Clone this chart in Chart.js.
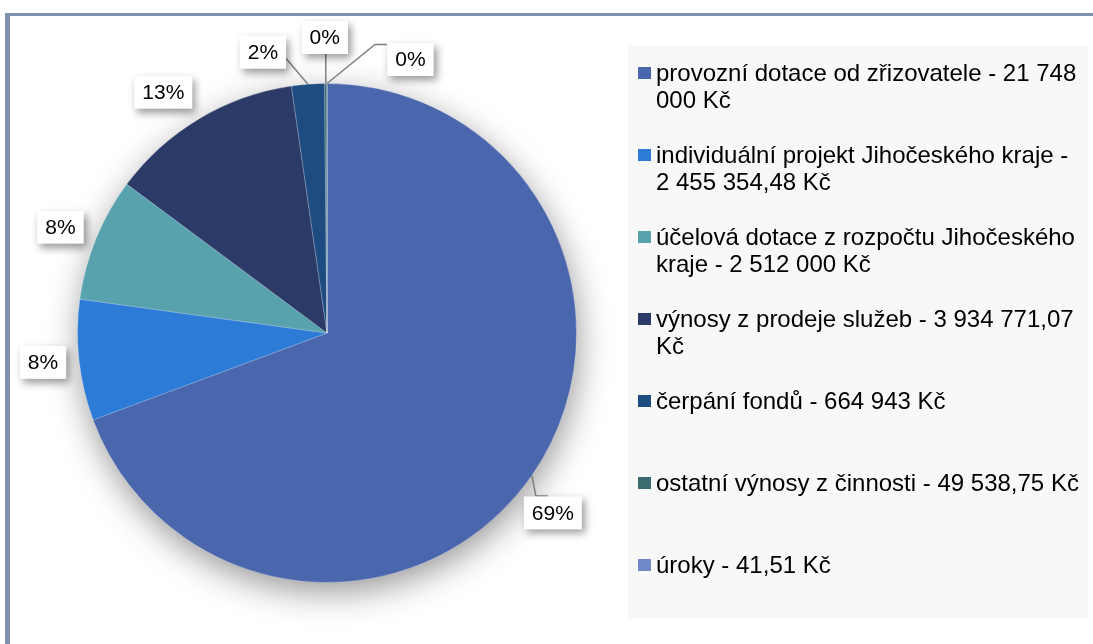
<!DOCTYPE html>
<html>
<head>
<meta charset="utf-8">
<script src="https://cdn.jsdelivr.net/npm/chart.js@4.4.1/dist/chart.umd.min.js"></script>
<style>
  html, body { margin: 0; padding: 0; background: #fff; }
  canvas { display: block; }
</style>
</head>
<body>
<canvas id="pieChart" width="1093" height="644"></canvas>
<script>
// data
const categories = [
  "provozní dotace od zřizovatele",
  "individuální projekt Jihočeského kraje",
  "účelová dotace z rozpočtu Jihočeského kraje",
  "výnosy z prodeje služeb",
  "čerpání fondů",
  "ostatní výnosy z činnosti",
  "úroky"
];
const amounts = [21748000, 2455354.48, 2512000, 3934771.07, 664943, 49538.75, 41.51];
const amountTexts = ["21 748 000 Kč", "2 455 354,48 Kč", "2 512 000 Kč", "3 934 771,07 Kč", "664 943 Kč", "49 538,75 Kč", "41,51 Kč"];

const sliceColors = ["#4A66AC", "#2C7BD6", "#58A2AE", "#2B3A67", "#1D4D80", "#3B6B6E", "#7089C6"];

// where each percentage box sits, relative to the slice's outer edge midpoint
const labelPlacement = [
  { dx: 21, dy: 37.5, leader: { x: -5, y: -17, elbow: -12 } },
  { dx: -36, dy: 2 },
  { dx: -35.5, dy: -11.5 },
  { dx: -36, dy: -26.5 },
  { dx: -45, dy: -32, leader: { x: 22.5, y: 5.5 } },
  { dx: -1, dy: -46, leader: { x: 1, y: 16.5 } },
  { dx: 83.5, dy: -24, leader: { x: -23.5, y: -15, elbow: -12 } }
];

const FONT = "'Liberation Sans', Arial, sans-serif";
const total = amounts.reduce((a, b) => a + b, 0);

const framePlugin = {
  id: "frame",
  beforeDraw(chart) {
    const ctx = chart.ctx;
    ctx.save();
    ctx.fillStyle = "#fff";
    ctx.fillRect(0, 0, chart.width, chart.height);
    // partial frame (top + left)
    ctx.fillStyle = "#8392AC";
    ctx.fillRect(5, 13, chart.width - 5, 3);
    ctx.fillRect(5, 13, 5, chart.height - 13);
    // legend panel
    ctx.fillStyle = "#F8F8F8";
    ctx.fillRect(628, 45, 460, 574);
    ctx.restore();
  }
};

const shadowPlugin = {
  id: "pieShadow",
  beforeDatasetsDraw(chart) {
    const arc = chart.getDatasetMeta(0).data[0];
    if (!arc) return;
    const { x, y, outerRadius } = arc.getProps(["x", "y", "outerRadius"], true);
    const ctx = chart.ctx;
    ctx.save();
    ctx.shadowColor = "rgba(0,0,0,0.42)";
    ctx.shadowBlur = 34;
    ctx.shadowOffsetX = 2;
    ctx.shadowOffsetY = 10;
    ctx.fillStyle = sliceColors[0];
    ctx.beginPath();
    ctx.arc(x, y, outerRadius - 1, 0, Math.PI * 2);
    ctx.fill();
    ctx.restore();
  }
};

const labelPlugin = {
  id: "pctLabels",
  afterDatasetsDraw(chart) {
    const ctx = chart.ctx;
    const meta = chart.getDatasetMeta(0);
    ctx.save();
    ctx.font = "21px " + FONT;
    ctx.textAlign = "center";
    ctx.textBaseline = "middle";
    meta.data.forEach((arc, i) => {
      const p = arc.getProps(["x", "y", "startAngle", "endAngle", "outerRadius"], true);
      const mid = (p.startAngle + p.endAngle) / 2;
      const ax = p.x + Math.cos(mid) * p.outerRadius;
      const ay = p.y + Math.sin(mid) * p.outerRadius;
      const pl = labelPlacement[i];
      const cx = ax + pl.dx, cy = ay + pl.dy;
      const text = Math.round(amounts[i] / total * 100) + "%";
      const w = ctx.measureText(text).width + 16, h = 33;

      if (pl.leader) {
        const ex = cx + pl.leader.x, ey = cy + pl.leader.y;
        ctx.strokeStyle = "#808080";
        ctx.lineWidth = 1.5;
        ctx.beginPath();
        ctx.moveTo(ax, ay);
        if (pl.leader.elbow) {
          ctx.lineTo(ex + pl.leader.elbow, ey);
        }
        ctx.lineTo(ex, ey);
        ctx.stroke();
      }

      ctx.save();
      ctx.shadowColor = "rgba(0,0,0,0.4)";
      ctx.shadowBlur = 8;
      ctx.shadowOffsetX = 3;
      ctx.shadowOffsetY = 4;
      ctx.fillStyle = "#fff";
      ctx.fillRect(cx - w / 2, cy - h / 2, w, h);
      ctx.restore();

      ctx.fillStyle = "#000";
      ctx.fillText(text, cx, cy + 1);
    });
    ctx.restore();
  }
};

const legendPlugin = {
  id: "wrapLegend",
  afterDraw(chart) {
    const ctx = chart.ctx;
    ctx.save();
    ctx.font = "24px " + FONT;
    ctx.textBaseline = "middle";
    ctx.textAlign = "left";
    const maxW = 428;
    categories.forEach((name, i) => {
      const y = 73 + i * 82;
      ctx.fillStyle = sliceColors[i];
      ctx.fillRect(638, y - 6, 13, 12);
      const words = (name + " - " + amountTexts[i]).split(" ");
      const lines = [];
      let line = "";
      words.forEach(wd => {
        const test = line ? line + " " + wd : wd;
        if (ctx.measureText(test).width > maxW && line) {
          lines.push(line);
          line = wd;
        } else {
          line = test;
        }
      });
      lines.push(line);
      ctx.fillStyle = "#000";
      lines.forEach((ln, k) => ctx.fillText(ln, 656, y + 1 + k * 27));
    });
    ctx.restore();
  }
};

new Chart(document.getElementById("pieChart").getContext("2d"), {
  type: "pie",
  data: {
    labels: categories,
    datasets: [{
      data: amounts,
      backgroundColor: sliceColors,
      borderColor: "rgba(255,255,255,0.25)",
      borderWidth: 1
    }]
  },
  options: {
    responsive: false,
    animation: false,
    layout: { padding: { left: 77, right: 516, top: 83, bottom: 61 } },
    plugins: {
      legend: { display: false },
      tooltip: { enabled: false }
    }
  },
  plugins: [framePlugin, shadowPlugin, labelPlugin, legendPlugin]
});
</script>
</body>
</html>
